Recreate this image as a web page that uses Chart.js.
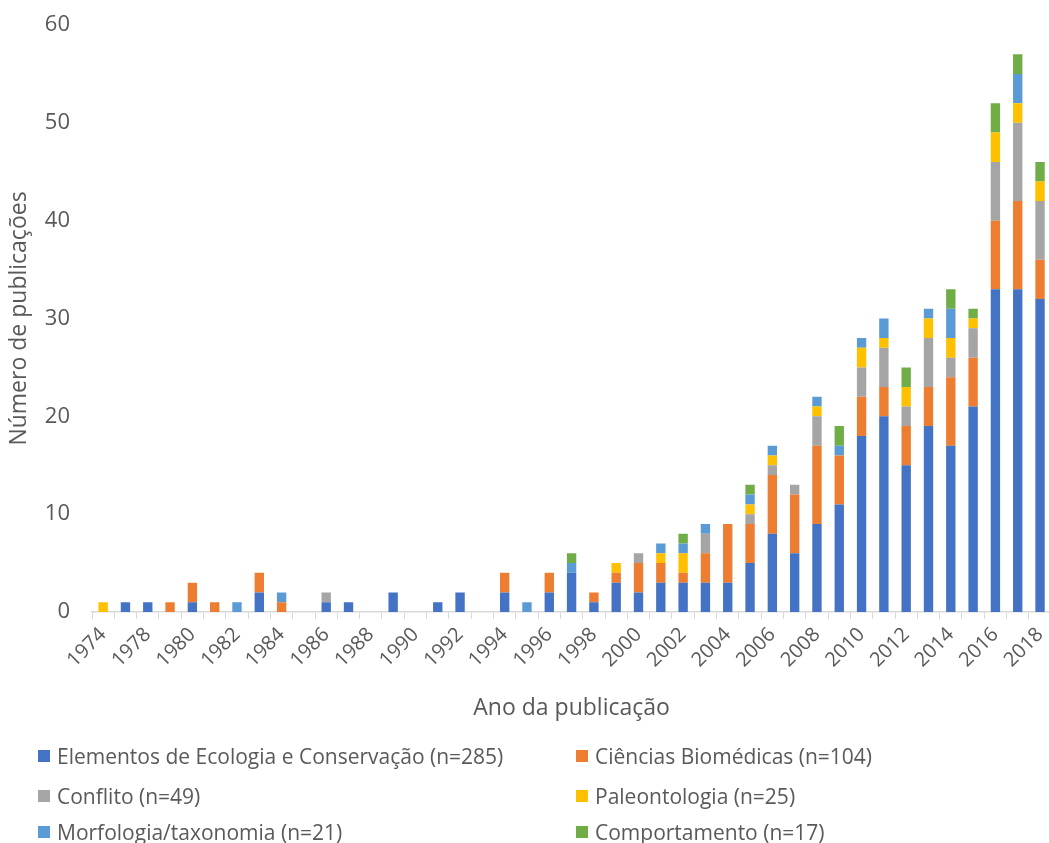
<!DOCTYPE html>
<html>
<head>
<meta charset="utf-8">
<script src="https://cdn.jsdelivr.net/npm/chart.js@4.4.1/dist/chart.umd.min.js"></script>
<style>
  html, body { margin: 0; padding: 0; background: #fff; overflow: hidden; }
  #wrap { position: relative; width: 1049px; height: 843px; overflow: hidden; }
  #chart { position: absolute; left: 0; top: 0; }
  .leg { position: absolute; font-family: 'Open Sans', sans-serif; font-size: 21px; color: #595959; white-space: nowrap; line-height: 24px; }
  .leg i { position: absolute; left: 0; top: 6px; width: 12px; height: 12px; }
  .leg span { padding-left: 19px; }
</style>
</head>
<body>
<div id="wrap">
  <canvas id="chart" width="1061" height="843"></canvas>
  <div id="legend"></div>
</div>
<script>
const years = ['1974', '1977', '1978', '1979', '1980', '1981', '1982', '1983', '1984', '1985',
  '1986', '1987', '1988', '1989', '1990', '1991', '1992', '1993', '1994', '1995',
  '1996', '1997', '1998', '1999', '2000', '2001', '2002', '2003', '2004', '2005',
  '2006', '2007', '2008', '2009', '2010', '2011', '2012', '2013', '2014', '2015',
  '2016', '2017', '2018'];

const ecologia = [0, 1, 1, 0, 1, 0, 0, 2, 0, 0,
  1, 1, 0, 2, 0, 1, 2, 0, 2, 0,
  2, 4, 1, 3, 2, 3, 3, 3, 3, 5,
  8, 6, 9, 11, 18, 20, 15, 19, 17, 21,
  33, 33, 32];
const biomedicas = [0, 0, 0, 1, 2, 1, 0, 2, 1, 0,
  0, 0, 0, 0, 0, 0, 0, 0, 2, 0,
  2, 0, 1, 1, 3, 2, 1, 3, 6, 4,
  6, 6, 8, 5, 4, 3, 4, 4, 7, 5,
  7, 9, 4];
const conflito = [0, 0, 0, 0, 0, 0, 0, 0, 0, 0,
  1, 0, 0, 0, 0, 0, 0, 0, 0, 0,
  0, 0, 0, 0, 1, 0, 0, 2, 0, 1,
  1, 1, 3, 0, 3, 4, 2, 5, 2, 3,
  6, 8, 6];
const paleontologia = [1, 0, 0, 0, 0, 0, 0, 0, 0, 0,
  0, 0, 0, 0, 0, 0, 0, 0, 0, 0,
  0, 0, 0, 1, 0, 1, 2, 0, 0, 1,
  1, 0, 1, 0, 2, 1, 2, 2, 2, 1,
  3, 2, 2];
const morfologia = [0, 0, 0, 0, 0, 0, 1, 0, 1, 0,
  0, 0, 0, 0, 0, 0, 0, 0, 0, 1,
  0, 1, 0, 0, 0, 1, 1, 1, 0, 1,
  1, 0, 1, 1, 1, 2, 0, 1, 3, 0,
  0, 3, 0];
const comportamento = [0, 0, 0, 0, 0, 0, 0, 0, 0, 0,
  0, 0, 0, 0, 0, 0, 0, 0, 0, 0,
  0, 1, 0, 0, 0, 0, 1, 0, 0, 1,
  0, 0, 0, 2, 0, 0, 2, 0, 2, 1,
  3, 2, 2];

const seriesNames = ['Elementos de Ecologia e Conservação (n=285)', 'Ciências Biomédicas (n=104)',
  'Conflito (n=49)', 'Paleontologia (n=25)', 'Morfologia/taxonomia (n=21)', 'Comportamento (n=17)'];
const seriesValues = [ecologia, biomedicas, conflito, paleontologia, morfologia, comportamento];
const seriesColors = ['#4472C4', '#ED7D31', '#A5A5A5', '#FFC000', '#5B9BD5', '#70AD47'];

const yTicks = [0, 10, 20, 30, 40, 50, 60];

const textColor = '#595959';
const fontFamily = "'Open Sans', sans-serif";

const datasets = seriesNames.map((name, i) => ({
  label: name,
  data: seriesValues[i],
  backgroundColor: seriesColors[i],
  borderWidth: 0,
  barPercentage: 0.42,
  categoryPercentage: 1
}));

new Chart(document.getElementById('chart'), {
  type: 'bar',
  data: { labels: years, datasets: datasets },
  options: {
    responsive: false,
    animation: false,
    layout: { padding: { top: 25, bottom: 113, left: 0, right: 0 } },
    plugins: { legend: { display: false }, tooltip: { enabled: false } },
    scales: {
      x: {
        stacked: true,
        grid: { display: true, drawOnChartArea: false, drawTicks: true, tickLength: 7, color: '#d9d9d9', offset: true },
        border: { display: true, color: '#d9d9d9', width: 1.5 },
        ticks: {
          autoSkip: false,
          minRotation: 45,
          maxRotation: 45,
          padding: 4,
          color: textColor,
          font: { family: fontFamily, size: 20 },
          callback: function(val, i) { return i % 2 === 0 ? this.getLabelForValue(val) : ''; }
        },
        title: { display: true, text: 'Ano da publicação', color: textColor, font: { family: fontFamily, size: 23 }, padding: { top: 0, bottom: 8 } },
        afterFit: function(scale) { scale.height = 118; }
      },
      y: {
        stacked: true,
        min: yTicks[0],
        max: yTicks[yTicks.length - 1],
        grid: { display: false, drawTicks: false },
        border: { display: false },
        afterBuildTicks: function(scale) { scale.ticks = yTicks.map(v => ({ value: v })); },
        ticks: { padding: 22, color: textColor, font: { family: fontFamily, size: 22 } },
        title: { display: true, text: 'Número de publicações', color: textColor, font: { family: fontFamily, size: 23 }, padding: { top: 6, bottom: 0 } },
        afterFit: function(scale) {
          scale.width = 92;
          // the tick padding should only push labels sideways, not shrink the plot
          scale.paddingTop = 0;
          scale.paddingBottom = 0;
        }
      }
    }
  }
});

// Legend in two columns under the chart
const legend = document.getElementById('legend');
const legendCols = [38, 576];
const legendRows = [744, 784, 820];
seriesNames.forEach((name, i) => {
  const item = document.createElement('div');
  item.className = 'leg';
  item.style.left = legendCols[i % 2] + 'px';
  item.style.top = legendRows[Math.floor(i / 2)] + 'px';
  item.innerHTML = '<i style="background:' + seriesColors[i] + '"></i><span></span>';
  item.querySelector('span').textContent = name;
  legend.appendChild(item);
});
</script>
</body>
</html>
